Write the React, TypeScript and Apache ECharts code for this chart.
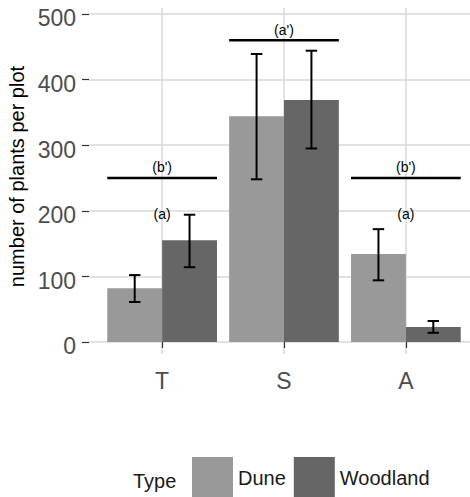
import React, { useEffect, useRef } from 'react';
import * as echarts from 'echarts';

// Plant counts per plot by transect zone and habitat type
const categories = ['T', 'S', 'A'];
const yTicks = [0, 100, 200, 300, 400, 500];

const duneMean = [82, 344, 134];
const duneLow = [61, 248, 94];
const duneHigh = [102, 439, 172];

const woodMean = [155, 369, 23];
const woodLow = [114, 295, 14];
const woodHigh = [194, 444, 32];

// Significance groupings
const bracketLabels = ["(b')", "(a')", "(b')"];
const bracketY = [250, 460, 250];
const letterLabels = ['(a)', '', '(a)'];
const letterY = [195, 0, 195];

const FONT = "'Liberation Sans', Arial, Helvetica, sans-serif";
const DODGE = 0.45;
const CAP = 0.047;
const DUNE_COLOR = '#999999';
const WOOD_COLOR = '#666666';

function barRenderer(side: number, color: string) {
  return (params: any, api: any) => {
    const x = api.value(0);
    const mean = api.value(1);
    const lo = api.value(2);
    const hi = api.value(3);
    const x0 = side < 0 ? x - DODGE : x;
    const x1 = side < 0 ? x : x + DODGE;
    const xm = (x0 + x1) / 2;
    const tl = api.coord([x0, mean]);
    const br = api.coord([x1, 0]);
    const top = api.coord([xm, hi]);
    const bot = api.coord([xm, lo]);
    const cl = api.coord([xm - CAP, hi])[0];
    const cr = api.coord([xm + CAP, hi])[0];
    const ink = { stroke: '#000', lineWidth: 2 };
    return {
      type: 'group',
      children: [
        {
          type: 'rect',
          shape: { x: tl[0], y: tl[1], width: br[0] - tl[0], height: br[1] - tl[1] },
          style: { fill: color },
        },
        { type: 'line', shape: { x1: top[0], y1: top[1], x2: bot[0], y2: bot[1] }, style: ink },
        { type: 'line', shape: { x1: cl, y1: top[1], x2: cr, y2: top[1] }, style: ink },
        { type: 'line', shape: { x1: cl, y1: bot[1], x2: cr, y2: bot[1] }, style: ink },
      ],
    };
  };
}

function bracketRenderer(params: any, api: any) {
  const i = params.dataIndex;
  const x = api.value(0);
  const y = api.value(1);
  const ly = api.value(2);
  const a = api.coord([x - DODGE, y]);
  const b = api.coord([x + DODGE, y]);
  const lab = api.coord([x, y + 16]);
  const children: any[] = [
    { type: 'line', shape: { x1: a[0], y1: a[1], x2: b[0], y2: b[1] }, style: { stroke: '#000', lineWidth: 2.5 } },
    {
      type: 'text',
      x: lab[0],
      y: lab[1],
      style: { text: bracketLabels[i], fontSize: 14, fontFamily: FONT, fill: '#000', align: 'center', verticalAlign: 'middle' },
    },
  ];
  if (letterLabels[i]) {
    const lp = api.coord([x, ly]);
    children.push({
      type: 'text',
      x: lp[0],
      y: lp[1],
      style: { text: letterLabels[i], fontSize: 14, fontFamily: FONT, fill: '#000', align: 'center', verticalAlign: 'middle' },
    });
  }
  return { type: 'group', children };
}

export default function App() {
  const ref = useRef<HTMLDivElement>(null);

  useEffect(() => {
    if (!ref.current) return;
    const chart = echarts.init(ref.current, undefined, { renderer: 'svg' });
    const gridLine = { show: true, lineStyle: { color: '#d9d9d9', width: 1.5 } };
    const tickStyle = { color: '#333333', width: 1.2 };
    const idx = categories.map((_, i) => i + 1);

    chart.setOption({
      animation: false,
      backgroundColor: '#ffffff',
      grid: {
        left: 89,
        top: 8,
        width: 390,
        bottom: 143,
        containLabel: false,
        outerBoundsMode: 'none',
      },
      xAxis: {
        type: 'value',
        min: 0.4,
        max: 3.6,
        offset: 3,
        axisLine: { show: false },
        axisTick: { show: true, length: 6, lineStyle: tickStyle, customValues: idx },
        axisLabel: {
          customValues: idx,
          formatter: (v: number) => categories[Math.round(v) - 1] ?? '',
          fontSize: 23,
          fontFamily: FONT,
          color: '#4d4d4d',
          margin: 12,
        },
        splitLine: gridLine,
      },
      yAxis: {
        type: 'value',
        min: -18.3,
        max: 509.1,
        name: 'number of plants per plot',
        nameLocation: 'middle',
        nameGap: 53,
        nameTextStyle: { fontSize: 20, fontFamily: FONT, color: '#000', padding: [0, 0, 0, 9] },
        axisLine: { show: false },
        axisTick: { show: true, length: 7, lineStyle: tickStyle, customValues: yTicks },
        axisLabel: {
          customValues: yTicks,
          formatter: (v: number) => `{n|${v}}`,
          rich: {
            n: {
              fontSize: 23,
              fontFamily: FONT,
              color: '#4d4d4d',
              padding: [9, 0, 0, 0],
            },
          },
          margin: 13,
        },
        splitLine: gridLine,
      },
      legend: {
        data: ['Dune', 'Woodland'],
        left: 192,
        top: 457,
        padding: 0,
        icon: 'rect',
        itemWidth: 41,
        itemHeight: 41,
        itemGap: 8,
        textStyle: { fontSize: 20, fontFamily: FONT, color: '#1a1a1a', padding: [3, 0, 0, 0] },
      },
      graphic: [
        {
          type: 'text',
          x: 133,
          y: 481,
          style: { text: 'Type', fontSize: 20, fontFamily: FONT, fill: '#1a1a1a', verticalAlign: 'middle' },
        },
      ],
      series: [
        {
          name: 'Dune',
          type: 'custom',
          itemStyle: { color: DUNE_COLOR },
          renderItem: barRenderer(-1, DUNE_COLOR),
          encode: { x: 0, y: 1 },
          data: idx.map((x, i) => [x, duneMean[i], duneLow[i], duneHigh[i]]),
          z: 2,
        },
        {
          name: 'Woodland',
          type: 'custom',
          itemStyle: { color: WOOD_COLOR },
          renderItem: barRenderer(1, WOOD_COLOR),
          encode: { x: 0, y: 1 },
          data: idx.map((x, i) => [x, woodMean[i], woodLow[i], woodHigh[i]]),
          z: 2,
        },
        {
          name: 'groups',
          type: 'custom',
          renderItem: bracketRenderer,
          encode: { x: 0, y: 1 },
          data: idx.map((x, i) => [x, bracketY[i], letterY[i]]),
          z: 3,
        },
      ],
    });
    return () => chart.dispose();
  }, []);

  return (
    <div
      ref={ref}
      style={{ position: 'fixed', left: 0, top: 0, width: 470, height: 497 }}
    />
  );
}
